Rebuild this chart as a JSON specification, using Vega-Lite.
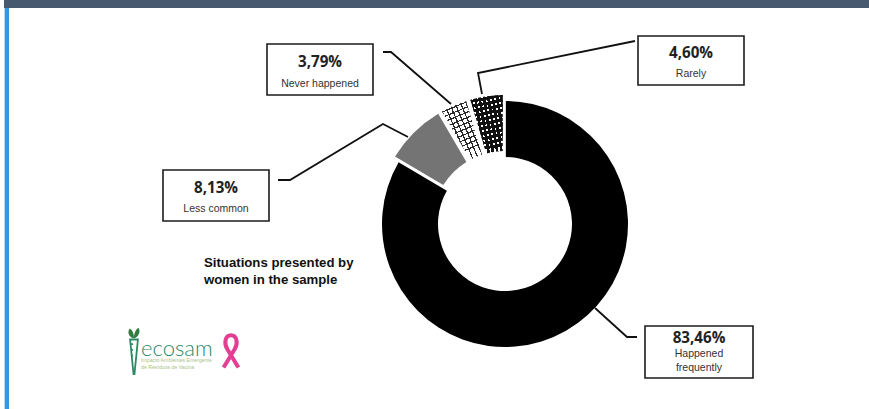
{
"$schema":"https://vega.github.io/schema/vega-lite/v6.json",
"width":869,"height":409,"padding":0,"autosize":{"type":"fit","contains":"padding"},"background":"#ffffff",
"config":{"view":{"stroke":null}},
"data":{"values":[
{"a":1,"slice":"Happened frequently","order":1,"value":83.46},
{"a":1,"slice":"Less common","order":2,"value":8.13},
{"a":1,"slice":"Never happened","order":3,"value":3.79},
{"a":1,"slice":"Rarely","order":4,"value":4.60}
]},
"transform":[{"stack":"value","groupby":[],"sort":[{"field":"order","order":"ascending"}],"as":["start","end"]}],
"encoding":{
"x":{"field":"a","type":"quantitative","axis":null,"scale":{"zero":false,"nice":false,"domain":[1,2,3,4,5,6,7,8,9,10,11,12,13,14,15,16,17,18,19,20,21,22,23,24,25,26,27,28,29,30,31,32,33,34,35,36,37,38,39,40,41,42,43,44],
"range":[505,4,869,4,5,5,9,267,373,638,744,163,269,645,753,383,391,451,635,478,482,278,290,383,408,595,627,637,320,320,691,691,216,216,699,699,699,204,204,141,141,141,134,231]}},
"y":{"field":"a","type":"quantitative","axis":null,"scale":{"zero":false,"nice":false,"domain":[1,2,3,4,5,6,7,8,9,10,11,12,13,14,15,16,17,18,19,20,21,22,23,24,25,26,27,28,29,30,31,32,33,34,35,36,37,38,39,40,41,42,43,44],
"range":[224,0,8,8,409,8,409,44,95,36,85,170,221,326,378,52,52,104,41,73,94,180,180,124,137,308,337,337,62,84,53,74,188,209,338,354,368,263,280,349,360,367,351,351]}},
"theta":{"field":"start","type":"quantitative","scale":{"domain":[0,99.98],"range":[0,6.2832]}},
"theta2":{"field":"end"}
},
"layer":[
{"transform":[{"filter":"datum.order==1"}],"mark":{"type":"arc","radius":123,"radius2":67,"fill":"#000000","padAngle":0.012}},
{"transform":[{"filter":"datum.order==2"}],"mark":{"type":"arc","radius":129,"radius2":73,"fill":"#747474","padAngle":0.03}},
{"transform":[{"filter":"datum.order==3"}],"mark":{"type":"arc","radius":129,"radius2":73,"padAngle":0.03,"fill":{"gradient":"linear","x1":0,"y1":0.2,"x2":0.8,"y2":-0.288,"stops":[
{"offset":0,"color":"#2a2a2a"},{"offset":0.03,"color":"#2a2a2a"},{"offset":0.03,"color":"rgba(0,0,0,0)"},{"offset":0.125,"color":"rgba(0,0,0,0)"},
{"offset":0.125,"color":"#2a2a2a"},{"offset":0.155,"color":"#2a2a2a"},{"offset":0.155,"color":"rgba(0,0,0,0)"},{"offset":0.25,"color":"rgba(0,0,0,0)"},
{"offset":0.25,"color":"#2a2a2a"},{"offset":0.28,"color":"#2a2a2a"},{"offset":0.28,"color":"rgba(0,0,0,0)"},{"offset":0.375,"color":"rgba(0,0,0,0)"},
{"offset":0.375,"color":"#2a2a2a"},{"offset":0.405,"color":"#2a2a2a"},{"offset":0.405,"color":"rgba(0,0,0,0)"},{"offset":0.5,"color":"rgba(0,0,0,0)"},
{"offset":0.5,"color":"#2a2a2a"},{"offset":0.53,"color":"#2a2a2a"},{"offset":0.53,"color":"rgba(0,0,0,0)"},{"offset":0.625,"color":"rgba(0,0,0,0)"},
{"offset":0.625,"color":"#2a2a2a"},{"offset":0.655,"color":"#2a2a2a"},{"offset":0.655,"color":"rgba(0,0,0,0)"},{"offset":0.75,"color":"rgba(0,0,0,0)"},
{"offset":0.75,"color":"#2a2a2a"},{"offset":0.78,"color":"#2a2a2a"},{"offset":0.78,"color":"rgba(0,0,0,0)"},{"offset":0.875,"color":"rgba(0,0,0,0)"},
{"offset":0.875,"color":"#2a2a2a"},{"offset":0.905,"color":"#2a2a2a"},{"offset":0.905,"color":"rgba(0,0,0,0)"},{"offset":1,"color":"rgba(0,0,0,0)"}
]}}},
{"transform":[{"filter":"datum.order==3"}],"mark":{"type":"arc","radius":129,"radius2":73,"padAngle":0.03,"fill":{"gradient":"linear","x1":0,"y1":0,"x2":0.29,"y2":1,"stops":[
{"offset":0,"color":"#2a2a2a"},{"offset":0.02,"color":"#2a2a2a"},{"offset":0.02,"color":"rgba(0,0,0,0)"},{"offset":0.083,"color":"rgba(0,0,0,0)"},
{"offset":0.083,"color":"#2a2a2a"},{"offset":0.103,"color":"#2a2a2a"},{"offset":0.103,"color":"rgba(0,0,0,0)"},{"offset":0.167,"color":"rgba(0,0,0,0)"},
{"offset":0.167,"color":"#2a2a2a"},{"offset":0.187,"color":"#2a2a2a"},{"offset":0.187,"color":"rgba(0,0,0,0)"},{"offset":0.25,"color":"rgba(0,0,0,0)"},
{"offset":0.25,"color":"#2a2a2a"},{"offset":0.27,"color":"#2a2a2a"},{"offset":0.27,"color":"rgba(0,0,0,0)"},{"offset":0.333,"color":"rgba(0,0,0,0)"},
{"offset":0.333,"color":"#2a2a2a"},{"offset":0.353,"color":"#2a2a2a"},{"offset":0.353,"color":"rgba(0,0,0,0)"},{"offset":0.417,"color":"rgba(0,0,0,0)"},
{"offset":0.417,"color":"#2a2a2a"},{"offset":0.437,"color":"#2a2a2a"},{"offset":0.437,"color":"rgba(0,0,0,0)"},{"offset":0.5,"color":"rgba(0,0,0,0)"},
{"offset":0.5,"color":"#2a2a2a"},{"offset":0.52,"color":"#2a2a2a"},{"offset":0.52,"color":"rgba(0,0,0,0)"},{"offset":0.583,"color":"rgba(0,0,0,0)"},
{"offset":0.583,"color":"#2a2a2a"},{"offset":0.603,"color":"#2a2a2a"},{"offset":0.603,"color":"rgba(0,0,0,0)"},{"offset":0.667,"color":"rgba(0,0,0,0)"},
{"offset":0.667,"color":"#2a2a2a"},{"offset":0.687,"color":"#2a2a2a"},{"offset":0.687,"color":"rgba(0,0,0,0)"},{"offset":0.75,"color":"rgba(0,0,0,0)"},
{"offset":0.75,"color":"#2a2a2a"},{"offset":0.77,"color":"#2a2a2a"},{"offset":0.77,"color":"rgba(0,0,0,0)"},{"offset":0.833,"color":"rgba(0,0,0,0)"},
{"offset":0.833,"color":"#2a2a2a"},{"offset":0.853,"color":"#2a2a2a"},{"offset":0.853,"color":"rgba(0,0,0,0)"},{"offset":0.917,"color":"rgba(0,0,0,0)"},
{"offset":0.917,"color":"#2a2a2a"},{"offset":0.937,"color":"#2a2a2a"},{"offset":0.937,"color":"rgba(0,0,0,0)"},{"offset":1,"color":"rgba(0,0,0,0)"}
]}}},
{"transform":[{"filter":"datum.order==4"}],"mark":{"type":"arc","radius":129,"radius2":73,"padAngle":0.03,"fill":{"gradient":"linear","x1":0,"y1":0.15,"x2":1,"y2":-0.147,"stops":[
{"offset":0,"color":"#111111"},{"offset":0.075,"color":"#111111"},{"offset":0.075,"color":"rgba(0,0,0,0)"},{"offset":0.125,"color":"rgba(0,0,0,0)"},
{"offset":0.125,"color":"#111111"},{"offset":0.2,"color":"#111111"},{"offset":0.2,"color":"rgba(0,0,0,0)"},{"offset":0.25,"color":"rgba(0,0,0,0)"},
{"offset":0.25,"color":"#111111"},{"offset":0.325,"color":"#111111"},{"offset":0.325,"color":"rgba(0,0,0,0)"},{"offset":0.375,"color":"rgba(0,0,0,0)"},
{"offset":0.375,"color":"#111111"},{"offset":0.45,"color":"#111111"},{"offset":0.45,"color":"rgba(0,0,0,0)"},{"offset":0.5,"color":"rgba(0,0,0,0)"},
{"offset":0.5,"color":"#111111"},{"offset":0.575,"color":"#111111"},{"offset":0.575,"color":"rgba(0,0,0,0)"},{"offset":0.625,"color":"rgba(0,0,0,0)"},
{"offset":0.625,"color":"#111111"},{"offset":0.7,"color":"#111111"},{"offset":0.7,"color":"rgba(0,0,0,0)"},{"offset":0.75,"color":"rgba(0,0,0,0)"},
{"offset":0.75,"color":"#111111"},{"offset":0.825,"color":"#111111"},{"offset":0.825,"color":"rgba(0,0,0,0)"},{"offset":0.875,"color":"rgba(0,0,0,0)"},
{"offset":0.875,"color":"#111111"},{"offset":0.95,"color":"#111111"},{"offset":0.95,"color":"rgba(0,0,0,0)"},{"offset":1,"color":"rgba(0,0,0,0)"}
]}}},
{"transform":[{"filter":"datum.order==4"}],"mark":{"type":"arc","radius":129,"radius2":73,"padAngle":0.03,"fill":{"gradient":"linear","x1":0,"y1":0,"x2":0.105,"y2":1,"stops":[
{"offset":0,"color":"#111111"},{"offset":0.05,"color":"#111111"},{"offset":0.05,"color":"rgba(0,0,0,0)"},{"offset":0.083,"color":"rgba(0,0,0,0)"},
{"offset":0.083,"color":"#111111"},{"offset":0.133,"color":"#111111"},{"offset":0.133,"color":"rgba(0,0,0,0)"},{"offset":0.167,"color":"rgba(0,0,0,0)"},
{"offset":0.167,"color":"#111111"},{"offset":0.217,"color":"#111111"},{"offset":0.217,"color":"rgba(0,0,0,0)"},{"offset":0.25,"color":"rgba(0,0,0,0)"},
{"offset":0.25,"color":"#111111"},{"offset":0.3,"color":"#111111"},{"offset":0.3,"color":"rgba(0,0,0,0)"},{"offset":0.333,"color":"rgba(0,0,0,0)"},
{"offset":0.333,"color":"#111111"},{"offset":0.383,"color":"#111111"},{"offset":0.383,"color":"rgba(0,0,0,0)"},{"offset":0.417,"color":"rgba(0,0,0,0)"},
{"offset":0.417,"color":"#111111"},{"offset":0.467,"color":"#111111"},{"offset":0.467,"color":"rgba(0,0,0,0)"},{"offset":0.5,"color":"rgba(0,0,0,0)"},
{"offset":0.5,"color":"#111111"},{"offset":0.55,"color":"#111111"},{"offset":0.55,"color":"rgba(0,0,0,0)"},{"offset":0.583,"color":"rgba(0,0,0,0)"},
{"offset":0.583,"color":"#111111"},{"offset":0.633,"color":"#111111"},{"offset":0.633,"color":"rgba(0,0,0,0)"},{"offset":0.667,"color":"rgba(0,0,0,0)"},
{"offset":0.667,"color":"#111111"},{"offset":0.717,"color":"#111111"},{"offset":0.717,"color":"rgba(0,0,0,0)"},{"offset":0.75,"color":"rgba(0,0,0,0)"},
{"offset":0.75,"color":"#111111"},{"offset":0.8,"color":"#111111"},{"offset":0.8,"color":"rgba(0,0,0,0)"},{"offset":0.833,"color":"rgba(0,0,0,0)"},
{"offset":0.833,"color":"#111111"},{"offset":0.883,"color":"#111111"},{"offset":0.883,"color":"rgba(0,0,0,0)"},{"offset":0.917,"color":"rgba(0,0,0,0)"},
{"offset":0.917,"color":"#111111"},{"offset":0.967,"color":"#111111"},{"offset":0.967,"color":"rgba(0,0,0,0)"},{"offset":1,"color":"rgba(0,0,0,0)"}
]}}},
{"data":{"values":[{"a":2,"b":3}]},"mark":{"type":"rect","fill":"#46596f"},"encoding":{"x2":{"field":"b"},"y2":{"field":"b"},"theta":null,"theta2":null}},
{"data":{"values":[{"a":4,"b":5}]},"mark":{"type":"rect","fill":"#b9dcf2"},"encoding":{"x2":{"field":"b"},"y2":{"field":"b"},"theta":null,"theta2":null}},
{"data":{"values":[{"a":6,"b":7}]},"mark":{"type":"rect","fill":"#3498db"},"encoding":{"x2":{"field":"b"},"y2":{"field":"b"},"theta":null,"theta2":null}},
{"data":{"values":[{"a":8,"b":9},{"a":10,"b":11},{"a":12,"b":13},{"a":14,"b":15}]},"mark":{"type":"rect","fill":"#ffffff","stroke":"#1c1c1c","strokeWidth":1.6},"encoding":{"x2":{"field":"b"},"y2":{"field":"b"},"theta":null,"theta2":null}},
{"data":{"values":[
{"a":16,"slice":"Never happened","step":1},{"a":17,"slice":"Never happened","step":2},{"a":18,"slice":"Never happened","step":3},
{"a":19,"slice":"Rarely","step":1},{"a":20,"slice":"Rarely","step":2},{"a":21,"slice":"Rarely","step":3},
{"a":22,"slice":"Less common","step":1},{"a":23,"slice":"Less common","step":2},{"a":24,"slice":"Less common","step":3},{"a":25,"slice":"Less common","step":4},
{"a":26,"slice":"Happened frequently","step":1},{"a":27,"slice":"Happened frequently","step":2},{"a":28,"slice":"Happened frequently","step":3}
]},"mark":{"type":"line","stroke":"#111111","strokeWidth":1.8,"clip":false},"encoding":{"detail":{"field":"slice"},"order":{"field":"step","type":"quantitative"},"theta":null,"theta2":null}},
{"data":{"values":[{"a":29,"t":"3,79%"},{"a":31,"t":"4,60%"},{"a":33,"t":"8,13%"},{"a":35,"t":"83,46%"}]},"mark":{"type":"text","font":"Open Sans","fontWeight":"bold","fontSize":15.2,"fill":"#222222","baseline":"middle","align":"center"},"encoding":{"text":{"field":"t"},"theta":null,"theta2":null}},
{"data":{"values":[{"a":30,"t":"Never happened"},{"a":32,"t":"Rarely"},{"a":34,"t":"Less common"},{"a":36,"t":"Happened"},{"a":37,"t":"frequently"}]},"mark":{"type":"text","font":"Liberation Sans","fontSize":10.5,"fill":"#333333","baseline":"middle","align":"center"},"encoding":{"text":{"field":"t"},"theta":null,"theta2":null}},
{"data":{"values":[{"a":38,"t":"Situations presented by"},{"a":39,"t":"women in the sample"}]},"mark":{"type":"text","font":"Liberation Sans","fontWeight":"bold","fontSize":13.2,"fill":"#111111","baseline":"middle","align":"left"},"encoding":{"text":{"field":"t"},"theta":null,"theta2":null}},
{"data":{"values":[{"a":40,"t":"ecosam"}]},"mark":{"type":"text","font":"Lato","fontWeight":300,"fontSize":22,"fill":"#2a8a66","baseline":"middle","align":"left"},"encoding":{"text":{"field":"t"},"theta":null,"theta2":null}},
{"data":{"values":[{"a":41,"t":"Impacto Ambientes Emergente"},{"a":42,"t":"de Resíduos de Vacina"}]},"mark":{"type":"text","font":"Liberation Sans","fontSize":5.2,"fill":"#a9c488","baseline":"middle","align":"left"},"encoding":{"text":{"field":"t"},"theta":null,"theta2":null}},
{"data":{"values":[{"a":43}]},"mark":{"type":"point","filled":false,"size":2116,"stroke":"#2a8a66","strokeWidth":1.8,"opacity":1,"shape":"M-0.17,-0.5 L0.17,-0.5 L0.02,1 L-0.02,1 Z M-0.15,-0.3 L-0.04,-0.3 M-0.12,-0.05 L-0.04,-0.05 M-0.09,0.2 L-0.04,0.2"},"encoding":{"theta":null,"theta2":null}},
{"data":{"values":[{"a":43}]},"mark":{"type":"point","filled":true,"size":2116,"fill":"#2f7d3f","opacity":1,"shape":"M0,-0.55 C-0.28,-0.6 -0.28,-0.9 -0.18,-0.98 C-0.05,-0.9 0,-0.75 0,-0.55 C0,-0.8 0.1,-0.98 0.2,-1 C0.3,-0.85 0.2,-0.6 0,-0.55 Z"},"encoding":{"theta":null,"theta2":null}},
{"data":{"values":[{"a":44}]},"mark":{"type":"point","filled":false,"size":1089,"stroke":"#e23f93","strokeWidth":4,"opacity":1,"shape":"M-0.45,1 L0.22,-0.1 C0.45,-0.5 0.35,-0.95 0,-0.95 C-0.35,-0.95 -0.45,-0.5 -0.22,-0.1 L0.45,1"},"encoding":{"theta":null,"theta2":null}}
]
}
